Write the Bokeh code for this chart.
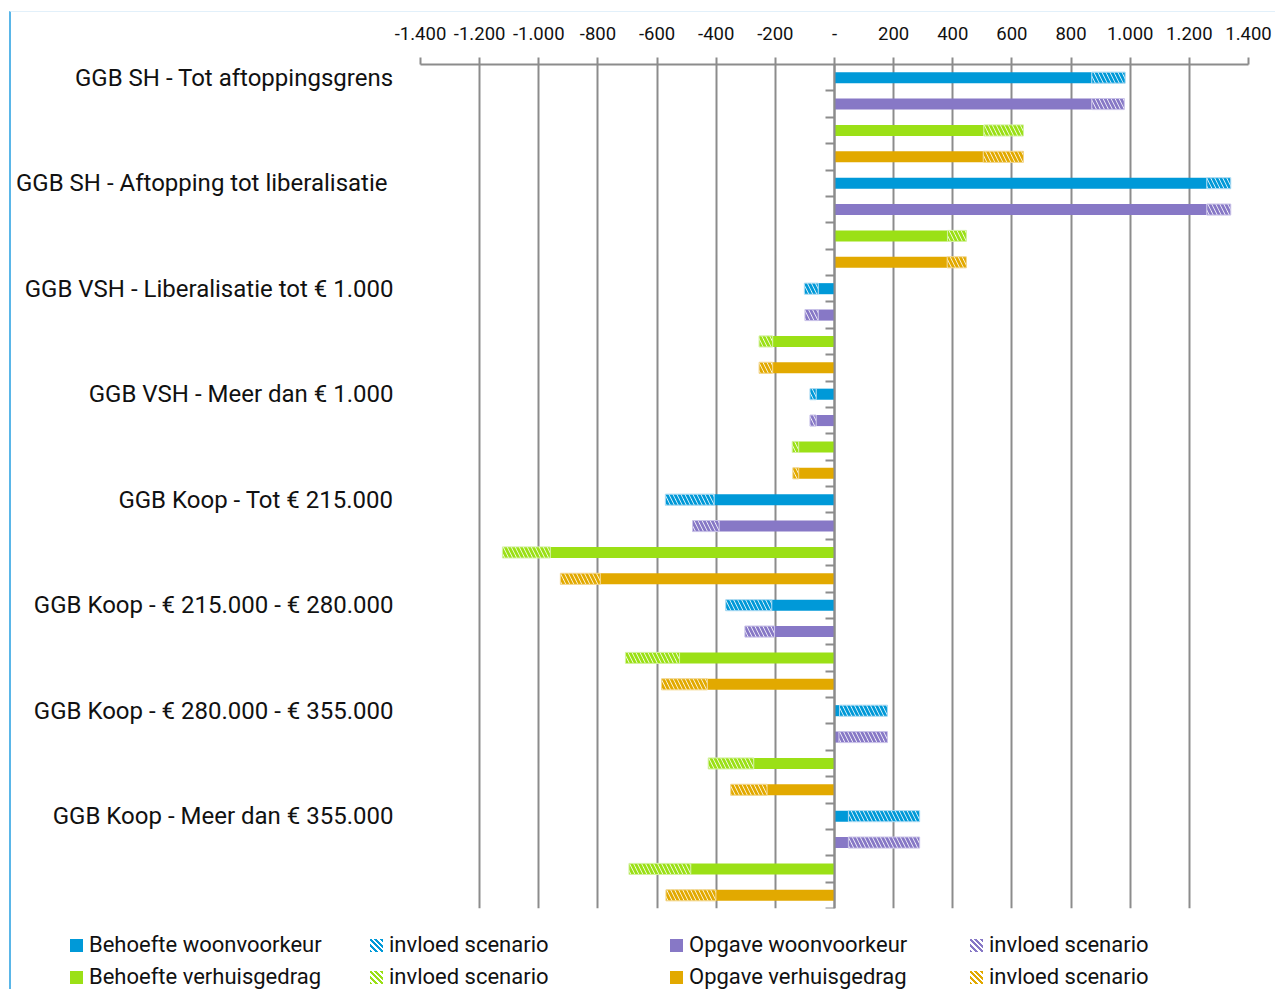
from bokeh.plotting import figure
from bokeh.models import (ColumnDataSource, Range1d, LinearAxis, FixedTicker, Div)
from bokeh.layouts import column
from bokeh.embed import file_html
from bokeh.resources import INLINE

# ---------------- data ----------------
categories = [
    "GGB SH - Tot aftoppingsgrens",
    "GGB SH -  Aftopping tot liberalisatie",
    "GGB VSH - Liberalisatie tot € 1.000",
    "GGB VSH - Meer dan € 1.000",
    "GGB Koop - Tot € 215.000",
    "GGB Koop - € 215.000 - € 280.000",
    "GGB Koop - € 280.000 - € 355.000",
    "GGB Koop - Meer dan € 355.000",
]
behoefte_woon = [870, 1259, -55, -62, -407, -212, 17, 47]
behoefte_woon_scen = [113, 81, -47, -21, -165, -156, 162, 241]
opgave_woon = [870, 1259, -55, -62, -390, -203, 15, 47]
opgave_woon_scen = [110, 81, -45, -21, -90, -100, 164, 241]
behoefte_verh = [505, 382, -209, -121, -961, -524, -273, -486]
behoefte_verh_scen = [134, 64, -46, -22, -162, -183, -154, -209]
opgave_verh = [503, 381, -209, -121, -792, -430, -228, -401]
opgave_verh_scen = [136, 65, -46, -20, -135, -155, -123, -169]

series_names = ["Behoefte woonvoorkeur", "Opgave woonvoorkeur",
                "Behoefte verhuisgedrag", "Opgave verhuisgedrag"]
scenario_label = "invloed scenario"
x_ticks = [-1400, -1200, -1000, -800, -600, -400, -200, 0,
           200, 400, 600, 800, 1000, 1200, 1400]

# ---------------- styling ----------------
FONT = "Roboto"
colors = ["#0099D8", "#8778C6", "#9BE016", "#E2A900"]
outline = ["#A9D9F2", "#C9C2E8", "#D2F19E", "#F2D58A"]
GRID = "#8C8C8C"

n_series = 4
n_rows = len(categories) * n_series

p = figure(width=1262, height=904, output_backend="svg", toolbar_location=None,
           x_range=Range1d(-1400, 1400), y_range=Range1d(n_rows, 0),
           x_axis_location="above", y_axis_location=None,
           min_border_left=409, min_border_right=25, min_border_top=52,
           min_border_bottom=8)
p.outline_line_color = None

# top axis
xa = p.xaxis[0]
xa.ticker = FixedTicker(ticks=x_ticks)
def nl(v):
    return "-" if v == 0 else f"{v:,}".replace(",", ".")
xa.major_label_overrides = {v: nl(v) for v in x_ticks}
xa.axis_line_color = GRID
xa.axis_line_width = 2
xa.major_tick_line_color = GRID
xa.major_tick_line_width = 2
xa.major_tick_out = 7
xa.major_tick_in = 0
xa.minor_tick_line_color = None
xa.major_label_text_font = FONT
xa.major_label_text_font_size = "18.5px"
xa.major_label_text_color = "#111111"
xa.major_label_standoff = 18

p.xgrid.ticker = FixedTicker(ticks=x_ticks)
p.xgrid.grid_line_color = GRID
p.xgrid.grid_line_width = 2
p.ygrid.visible = False

# category label axis
label_pos = [i * n_series + 0.5 for i in range(len(categories))]
la = LinearAxis(ticker=FixedTicker(ticks=label_pos),
                major_label_overrides={pos: c for pos, c in zip(label_pos, categories)})
la.axis_line_color = None
la.major_tick_line_color = None
la.minor_tick_line_color = None
la.major_label_standoff = 21
la.major_label_text_font = FONT
la.major_label_text_font_size = "24px"
la.major_label_text_color = "#111111"
p.add_layout(la, "left")

# zero axis with ticks between rows
za = LinearAxis(ticker=FixedTicker(ticks=list(range(1, n_rows + 1))),
                fixed_location=0)
za.major_label_overrides = {i: "" for i in range(1, n_rows + 1)}
za.major_label_text_font_size = "0px"
za.axis_line_color = GRID
za.axis_line_width = 2
za.major_tick_line_color = GRID
za.major_tick_line_width = 2
za.major_tick_out = 9
za.major_tick_in = 0
za.minor_tick_line_color = None
p.add_layout(za, "left")

all_base = [behoefte_woon, opgave_woon, behoefte_verh, opgave_verh]
all_scen = [behoefte_woon_scen, opgave_woon_scen, behoefte_verh_scen, opgave_verh_scen]

for k in range(n_series):
    ys = [i * n_series + k + 0.5 for i in range(len(categories))]
    base = all_base[k]
    end = [b + s for b, s in zip(base, all_scen[k])]
    src = ColumnDataSource(dict(y=ys, zero=[0] * len(ys), base=base, end=end))
    p.hbar(y="y", left="zero", right="base", height=0.42, source=src,
           fill_color=colors[k], line_color=None)
    p.hbar(y="y", left="base", right="end", height=0.42, source=src,
           fill_color="white", line_color=outline[k], line_width=1,
           hatch_pattern="left_diagonal_line", hatch_color=colors[k],
           hatch_weight=2.8, hatch_scale=8)

# ---------------- legend (HTML strip below the chart) ----------------
def entry(label, color, hatched):
    if hatched:
        bg = (f"background:repeating-linear-gradient(45deg,{color} 0px,{color} 2px,"
              f"#ffffff 2px,#ffffff 4px);")
    else:
        bg = f"background:{color};"
    return (f"<div style='display:flex;align-items:center;height:32px;'>"
            f"<span style='display:inline-block;width:13px;height:13px;{bg}"
            f"margin-right:6px;'></span>"
            f"<span style='font-family:{FONT};font-size:22px;color:#111111;"
            f"white-space:nowrap;'>{label}</span></div>")

cells = []
for row in ((0, 1), (2, 3)):
    for k in row:
        cells.append(entry(series_names[k], colors[k], False))
        cells.append(entry(scenario_label, colors[k], True))

legend_html = ("<div style='display:grid;grid-template-columns:300px 300px 300px 300px;"
               "padding-left:54px;padding-top:8px;'>" + "".join(cells) + "</div>")
legend_div = Div(text=legend_html, width=1262, height=73)

layout = column(p, legend_div, spacing=0)
layout.styles = {"margin-left": "9px", "margin-top": "11px",
                 "border-left": "2px solid #5AB6E8", "border-top": "1px solid #E2F0FA"}

open("out.html", "w").write(file_html(layout, INLINE))
